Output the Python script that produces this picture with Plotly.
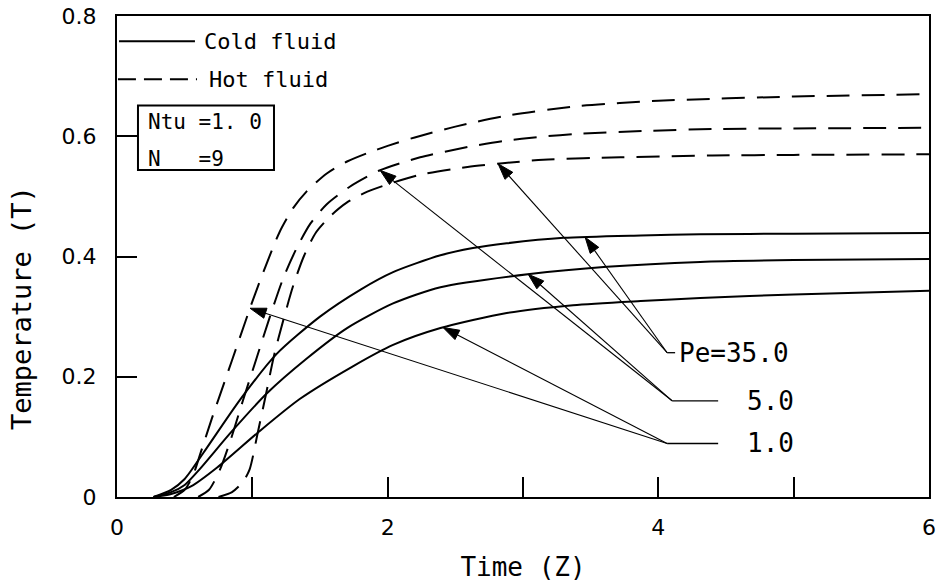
import numpy as np
import plotly.graph_objects as go

# Cold fluid (solid lines)
cold_pe35_x = [0.27, 0.40, 0.50, 0.64, 0.91, 1.18, 1.50, 1.80, 2.04, 2.39, 2.63, 2.88, 3.30, 3.87, 4.31, 5.00, 6.00]
cold_pe35_y = [0.000, 0.012, 0.030, 0.074, 0.162, 0.238, 0.300, 0.345, 0.374, 0.402, 0.414, 0.422, 0.431, 0.435, 0.437, 0.438, 0.439]

cold_pe5_x = [0.27, 0.40, 0.50, 0.61, 0.84, 1.11, 1.40, 1.70, 2.04, 2.39, 3.05, 3.62, 4.31, 5.00, 6.00]
cold_pe5_y = [0.000, 0.008, 0.020, 0.046, 0.107, 0.173, 0.230, 0.281, 0.322, 0.349, 0.371, 0.383, 0.391, 0.394, 0.396]

cold_pe1_x = [0.27, 0.40, 0.55, 0.74, 1.04, 1.35, 1.74, 2.04, 2.39, 2.88, 3.37, 3.87, 4.31, 5.00, 6.00]
cold_pe1_y = [0.000, 0.005, 0.018, 0.049, 0.107, 0.163, 0.217, 0.253, 0.281, 0.306, 0.319, 0.326, 0.331, 0.337, 0.343]

# Hot fluid (dashed lines)
hot_pe1_x = [0.42, 0.50, 0.56, 0.62, 0.70, 0.80, 0.90, 1.00, 1.10, 1.20, 1.30, 1.40, 1.55, 1.70, 1.85, 2.00, 2.20, 2.50, 2.90, 3.40, 4.00, 5.00, 6.00]
hot_pe1_y = [0.000, 0.012, 0.035, 0.075, 0.130, 0.195, 0.260, 0.325, 0.385, 0.440, 0.480, 0.508, 0.538, 0.558, 0.572, 0.584, 0.598, 0.616, 0.635, 0.650, 0.659, 0.666, 0.670]

hot_pe5_x = [0.60, 0.68, 0.76, 0.84, 0.93, 1.03, 1.13, 1.23, 1.33, 1.43, 1.55, 1.72, 1.94, 2.24, 2.59, 2.85, 3.13, 3.40, 3.92, 4.40, 5.00, 6.00]
hot_pe5_y = [0.000, 0.012, 0.045, 0.095, 0.160, 0.230, 0.300, 0.365, 0.415, 0.455, 0.487, 0.516, 0.543, 0.565, 0.582, 0.592, 0.599, 0.604, 0.609, 0.612, 0.613, 0.614]

hot_pe35_x = [0.75, 0.85, 0.93, 0.98, 1.04, 1.10, 1.16, 1.23, 1.30, 1.38, 1.47, 1.58, 1.70, 1.85, 2.00, 2.24, 2.59, 2.85, 3.15, 3.72, 4.40, 5.00, 6.00]
hot_pe35_y = [0.000, 0.008, 0.025, 0.046, 0.107, 0.170, 0.235, 0.295, 0.350, 0.400, 0.440, 0.468, 0.490, 0.508, 0.520, 0.536, 0.549, 0.555, 0.561, 0.565, 0.568, 0.569, 0.570]

# Peclet-number labels: text, leader corner, end of leader, and the
# Z positions on the hot/cold curves the arrows point to
pe_labels = ["Pe=35.0", "5.0", "1.0"]
pe_corner = [(4.065, 0.240), (4.102, 0.160), (4.065, 0.089)]
pe_leader_end = [4.124, 4.442, 4.442]
pe_text_pos = [(4.14, 0.240), (4.64, 0.160), (4.64, 0.089)]
pe_hot_tip_x = [2.816, 1.944, 0.983]
pe_cold_tip_x = [3.459, 3.038, 2.409]

x_ticks = [0, 2, 4, 6]
y_ticks = [0, 0.2, 0.4, 0.6, 0.8]
y_tick_text = ["0", "0.2", "0.4", "0.6", "0.8"]

FONT = "DejaVu Sans"
MONO = "DejaVu Sans Mono"
INK = "black"

fig = go.Figure()

solid = dict(color=INK, width=2)
dashed = dict(color=INK, width=2, dash="23px,12px")

cold = [(cold_pe35_x, cold_pe35_y), (cold_pe5_x, cold_pe5_y), (cold_pe1_x, cold_pe1_y)]
hot = [(hot_pe35_x, hot_pe35_y), (hot_pe5_x, hot_pe5_y), (hot_pe1_x, hot_pe1_y)]

for name, (xs, ys) in zip(["Pe=35.0", "Pe=5.0", "Pe=1.0"], cold):
    fig.add_trace(go.Scatter(x=xs, y=ys, mode="lines", line=dict(solid, shape="spline", smoothing=0.7),
                             name="Cold fluid " + name, showlegend=False, hoverinfo="skip"))
for name, (xs, ys) in zip(["Pe=35.0", "Pe=5.0", "Pe=1.0"], hot):
    fig.add_trace(go.Scatter(x=xs, y=ys, mode="lines", line=dict(dashed, shape="spline", smoothing=0.7),
                             name="Hot fluid " + name, showlegend=False, hoverinfo="skip"))

annotations = []
shapes = []

# leader arrows from each label corner to its hot and cold curves;
# the arrow marker at the second point is turned along the leader line
for i, label in enumerate(pe_labels):
    cx, cy = pe_corner[i]
    hx = pe_hot_tip_x[i]
    hy = float(np.interp(hx, hot[i][0], hot[i][1]))
    kx = pe_cold_tip_x[i]
    ky = float(np.interp(kx, cold[i][0], cold[i][1]))
    for tx, ty in [(hx, hy), (kx, ky)]:
        fig.add_trace(go.Scatter(
            x=[cx, tx], y=[cy, ty], mode="lines+markers",
            line=dict(color=INK, width=1.1),
            marker=dict(symbol=["circle", "arrow"], size=[0, 17], color=INK, opacity=1,
                        angleref="previous", line=dict(width=1, color=INK)),
            showlegend=False, hoverinfo="skip"))
    shapes.append(dict(type="line", xref="x", yref="y", x0=cx, y0=cy, x1=pe_leader_end[i], y1=cy,
                       line=dict(color=INK, width=1.3)))
    tx, ty = pe_text_pos[i]
    annotations.append(dict(x=tx, y=ty, xref="x", yref="y", text=label, showarrow=False,
                            xanchor="left", yanchor="middle", font=dict(family=MONO, size=26, color=INK)))

# line-style key inside the axes
shapes.append(dict(type="line", xref="x", yref="y", x0=0.015, x1=0.576, y0=0.758, y1=0.758,
                   line=dict(color=INK, width=2)))
shapes.append(dict(type="line", xref="x", yref="y", x0=0.007, x1=0.591, y0=0.695, y1=0.695,
                   line=dict(color=INK, width=2, dash="18px,8px")))
annotations.append(dict(x=0.63, y=0.758, xref="x", yref="y", text="Cold fluid", showarrow=False,
                        xanchor="left", yanchor="middle", font=dict(family=MONO, size=22, color=INK)))
annotations.append(dict(x=0.665, y=0.695, xref="x", yref="y", text="Hot fluid", showarrow=False,
                        xanchor="left", yanchor="middle", font=dict(family=MONO, size=22, color=INK)))

# parameter box
shapes.append(dict(type="rect", xref="x", yref="y", x0=0.155, x1=1.160, y0=0.544, y1=0.651,
                   line=dict(color=INK, width=2), fillcolor="white"))
annotations.append(dict(x=0.215, y=0.623, xref="x", yref="y", text="Ntu =1. 0", showarrow=False,
                        xanchor="left", yanchor="middle", font=dict(family=MONO, size=21, color=INK)))
annotations.append(dict(x=0.215, y=0.563, xref="x", yref="y", text="N   =9", showarrow=False,
                        xanchor="left", yanchor="middle", font=dict(family=MONO, size=21, color=INK)))

# vertical axis title, set a little below the middle of the axis
annotations.append(dict(x=-0.117, y=0.393, xref="paper", yref="paper", text="Temperature (T)",
                        textangle=-90, showarrow=False, xanchor="center", yanchor="middle",
                        font=dict(family=MONO, size=27, color=INK)))

fig.update_layout(
    width=938, height=582,
    margin=dict(l=117, r=9, t=16, b=85, autoexpand=False),
    paper_bgcolor="white", plot_bgcolor="white",
    showlegend=False,
    shapes=shapes, annotations=annotations,
    font=dict(family=FONT, size=22, color=INK),
)
fig.update_xaxes(
    range=[0, 6], tickvals=x_ticks, ticktext=[str(v) for v in x_ticks],
    ticks="inside", ticklen=20, tickwidth=2, tickcolor=INK,
    minor=dict(dtick=1, tick0=0, ticks="inside", ticklen=20, tickwidth=2, tickcolor=INK),
    showline=True, linewidth=2, linecolor=INK, mirror=True, automargin=False,
    showgrid=False, zeroline=False, ticklabelstandoff=10,
    tickfont=dict(family=FONT, size=22, color=INK),
    title=dict(text="Time (Z)", font=dict(family=MONO, size=26, color=INK), standoff=18),
)
fig.update_yaxes(
    range=[0, 0.8], tickvals=y_ticks, ticktext=y_tick_text,
    ticks="inside", ticklen=20, tickwidth=2, tickcolor=INK,
    showline=True, linewidth=2, linecolor=INK, mirror=True, automargin=False,
    showgrid=False, zeroline=False, ticklabelstandoff=14,
    tickfont=dict(family=FONT, size=22, color=INK),
)

fig.write_html("out.html")
